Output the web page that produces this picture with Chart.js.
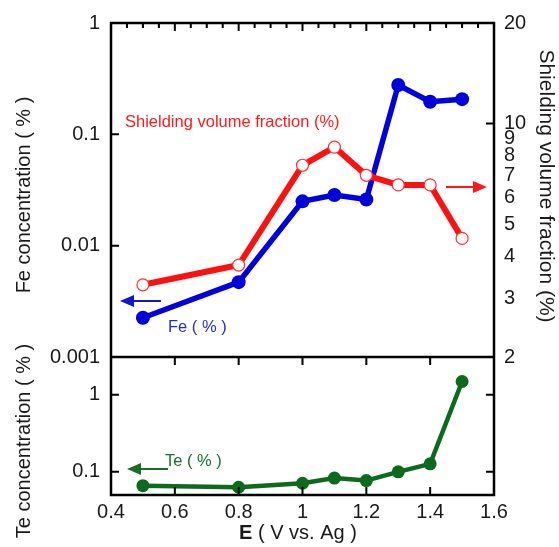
<!DOCTYPE html>
<html>
<head>
<meta charset="utf-8">
<script src="https://cdn.jsdelivr.net/npm/chart.js@4"></script>
<style>
  html, body { margin: 0; padding: 0; background: #fff; }
</style>
</head>
<body>
<canvas id="chart" width="559" height="547"></canvas>
<script>
// values
const potentials = [0.5, 0.8, 1.0, 1.1, 1.2, 1.3, 1.4, 1.5];
const feConc = [0.00225, 0.0047, 0.025, 0.0285, 0.026, 0.277, 0.196, 0.207];
const shieldFrac = [3.29, 3.77, 7.5, 8.5, 7.0, 6.55, 6.55, 4.53];
const teConc = [0.066, 0.063, 0.071, 0.083, 0.077, 0.1, 0.127, 1.49];

const xTicks = [0.4, 0.6, 0.8, 1, 1.2, 1.4, 1.6];
const feTicks = [0.001, 0.01, 0.1, 1];
const shieldTicks = [2, 3, 4, 5, 6, 7, 8, 9, 10, 20];
const teTicks = [0.1, 1];

const FAMILY = '"Liberation Sans", Arial, sans-serif';
const tickFont = { family: FAMILY, size: 20 };
const txt = '#1a1a1a';

function setTicks(list) {
    return scale => { scale.ticks = list.map(v => ({ value: v })); };
}

function yAxis(min, max, list, pos, stack, weight, width, showLabels) {
    return {
        type: 'logarithmic',
        position: pos,
        stack: stack,
        stackWeight: weight,
        min: min,
        max: max,
        afterBuildTicks: setTicks(list),
        afterFit: s => { s.width = width; },
        grid: { display: false, drawTicks: false },
        border: { display: false },
        ticks: {
            display: showLabels,
            font: tickFont,
            color: txt,
            padding: pos === 'left' ? 11 : 10,
            autoSkip: false,
            callback: v => String(v)
        }
    };
}

function arrow(ctx, x1, x2, y, color, headLeft) {
    ctx.strokeStyle = color;
    ctx.fillStyle = color;
    ctx.lineWidth = 2;
    const head = 14;
    ctx.beginPath();
    if (headLeft) {
        ctx.moveTo(x1 + head - 2, y);
        ctx.lineTo(x2, y);
    } else {
        ctx.moveTo(x1, y);
        ctx.lineTo(x2 - head + 2, y);
    }
    ctx.stroke();
    ctx.beginPath();
    if (headLeft) {
        ctx.moveTo(x1, y);
        ctx.lineTo(x1 + head, y - 6);
        ctx.lineTo(x1 + head, y + 6);
    } else {
        ctx.moveTo(x2, y);
        ctx.lineTo(x2 - head, y - 6);
        ctx.lineTo(x2 - head, y + 6);
    }
    ctx.closePath();
    ctx.fill();
}

function vText(ctx, text, x, y, angle, size) {
    ctx.save();
    ctx.translate(x, y);
    ctx.rotate(angle);
    ctx.font = size + 'px ' + FAMILY;
    ctx.fillStyle = txt;
    ctx.textAlign = 'center';
    ctx.textBaseline = 'middle';
    ctx.fillText(text, 0, 0);
    ctx.restore();
}

// frame, inward ticks, arrows and labels
const framePlugin = {
    id: 'frame',
    afterDraw(chart) {
        const { ctx, chartArea: a, scales } = chart;
        const sx = scales.x, yFe = scales.yFe, yTe = scales.yTe, yS = scales.yShield;
        const mid = yFe.bottom;
        ctx.save();
        ctx.strokeStyle = '#000';
        ctx.lineWidth = 2;
        ctx.beginPath();
        // top edge ticks every 0.05, longer on 0.2
        for (let i = 0; i <= 24; i++) {
            const px = sx.getPixelForValue(0.4 + i * 0.05);
            const len = i % 4 === 0 ? 8 : 5;
            ctx.moveTo(px, a.top);
            ctx.lineTo(px, a.top + len);
        }
        xTicks.forEach(v => {
            const px = sx.getPixelForValue(v);
            ctx.moveTo(px, mid);
            ctx.lineTo(px, mid + 8);
            ctx.moveTo(px, a.bottom);
            ctx.lineTo(px, a.bottom - 8);
        });
        feTicks.forEach(v => {
            const py = yFe.getPixelForValue(v);
            ctx.moveTo(a.left, py);
            ctx.lineTo(a.left + 8, py);
        });
        [10].forEach(v => {
            const py = yS.getPixelForValue(v);
            ctx.moveTo(a.right, py);
            ctx.lineTo(a.right - 8, py);
        });
        teTicks.forEach(v => {
            const py = yTe.getPixelForValue(v);
            ctx.moveTo(a.left, py);
            ctx.lineTo(a.left + 8, py);
            ctx.moveTo(a.right, py);
            ctx.lineTo(a.right - 8, py);
        });
        ctx.stroke();

        ctx.lineWidth = 2.5;
        ctx.strokeRect(a.left, a.top, a.right - a.left, a.bottom - a.top);
        ctx.beginPath();
        ctx.moveTo(a.left, mid);
        ctx.lineTo(a.right, mid);
        ctx.stroke();

        // arrows pointing to the axes
        arrow(ctx, 446, 487, 187, '#ff1a1a', false);
        arrow(ctx, 120, 161, 301, '#1515cc', true);
        arrow(ctx, 127, 168, 469, '#1b6e28', true);

        ctx.font = '16.5px ' + FAMILY;
        ctx.textBaseline = 'middle';
        ctx.textAlign = 'left';
        ctx.fillStyle = '#ff1a1a';
        ctx.fillText('Shielding volume fraction (%)', 125, 122);
        ctx.fillStyle = '#2a2acc';
        ctx.fillText('Fe ( % )', 168, 327);
        ctx.fillStyle = '#1b6e28';
        ctx.fillText('Te ( % )', 165, 461);

        // axis titles
        vText(ctx, 'Fe concentration ( % )', 24, 195, -Math.PI / 2, 20);
        vText(ctx, 'Te concentration ( % )', 24, 441, -Math.PI / 2, 20);
        vText(ctx, 'Shielding volume fraction (%)', 546, 186, Math.PI / 2, 21);

        ctx.fillStyle = txt;
        ctx.textAlign = 'left';
        ctx.font = 'bold 20px ' + FAMILY;
        const wE = ctx.measureText('E').width;
        ctx.font = '20px ' + FAMILY;
        const rest = ' ( V vs. Ag )';
        const wR = ctx.measureText(rest).width;
        const x0 = 298 - (wE + wR) / 2;
        ctx.font = 'bold 20px ' + FAMILY;
        ctx.fillText('E', x0, 533);
        ctx.font = '20px ' + FAMILY;
        ctx.fillText(rest, x0 + wE, 533);
        ctx.restore();
    }
};

const points = list => potentials.map((x, i) => ({ x: x, y: list[i] }));

new Chart(document.getElementById('chart'), {
    type: 'line',
    data: {
        datasets: [{
            label: 'Shielding volume fraction (%)',
            data: points(shieldFrac),
            yAxisID: 'yShield',
            borderColor: '#ff1010',
            borderWidth: 6,
            pointRadius: 6,
            pointBackgroundColor: '#ffffff',
            pointBorderColor: '#ff3030',
            pointBorderWidth: 1.2,
            tension: 0,
            order: 0
        }, {
            label: 'Fe ( % )',
            data: points(feConc),
            yAxisID: 'yFe',
            borderColor: '#0000dd',
            borderWidth: 5.5,
            pointRadius: 7,
            pointBackgroundColor: '#0000dd',
            pointBorderWidth: 0,
            tension: 0,
            order: 1
        }, {
            label: 'Te ( % )',
            data: points(teConc),
            yAxisID: 'yTe',
            borderColor: '#0b6a1c',
            borderWidth: 4.5,
            pointRadius: 6.5,
            pointBackgroundColor: '#0b6a1c',
            pointBorderWidth: 0,
            tension: 0,
            order: 2
        }]
    },
    options: {
        responsive: false,
        animation: false,
        layout: { padding: { top: 23, left: 0, right: 0, bottom: 0 } },
        plugins: { legend: { display: false }, tooltip: { enabled: false } },
        scales: {
            x: {
                type: 'linear',
                position: 'bottom',
                min: 0.4,
                max: 1.6,
                afterBuildTicks: setTicks(xTicks),
                afterFit: s => { s.height = 52; },
                grid: { display: false, drawTicks: false },
                border: { display: false },
                ticks: { font: tickFont, color: txt, padding: 5, maxRotation: 0, autoSkip: false, callback: v => String(v) }
            },
            // left stack is laid out in reverse order: the later one ends on top
            yTe: yAxis(0.05, 3.1, teTicks, 'left', 'left', 138, 111, true),
            yFe: yAxis(0.001, 1, feTicks, 'left', 'left', 334, 111, true),
            yShield: yAxis(2, 20, shieldTicks, 'right', 'right', 334, 65, true),
            yTeR: yAxis(0.05, 3.1, teTicks, 'right', 'right', 138, 65, false)
        }
    },
    plugins: [framePlugin]
});
</script>
</body>
</html>
